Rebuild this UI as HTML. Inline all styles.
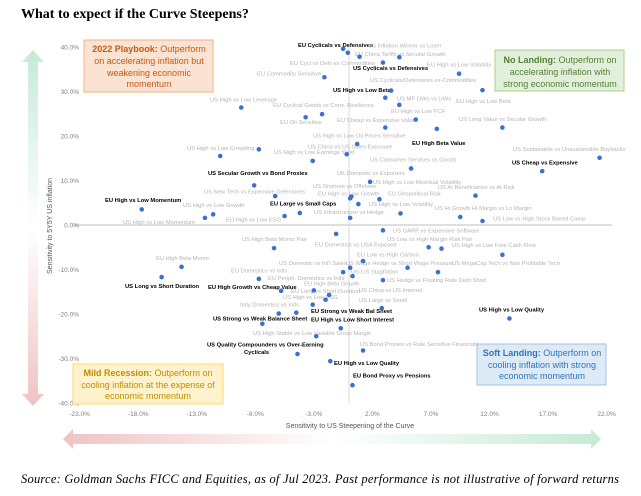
<!DOCTYPE html>
<html><head><meta charset="utf-8"><style>
html,body{margin:0;padding:0;background:#fff;}
svg{display:block;font-family:"Liberation Sans",sans-serif;}
</style></head><body>
<svg id="chart" width="641" height="496" viewBox="0 0 641 496">
<defs>
<linearGradient id="vgrad" x1="0" y1="0" x2="0" y2="1">
<stop offset="0" stop-color="#c6ead6"/><stop offset="0.5" stop-color="#ffffff"/><stop offset="1" stop-color="#efc3c3"/>
</linearGradient>
<linearGradient id="hgrad" x1="0" y1="0" x2="1" y2="0">
<stop offset="0" stop-color="#efc3c3"/><stop offset="0.5" stop-color="#ffffff"/><stop offset="1" stop-color="#c6ead6"/>
</linearGradient>
</defs>
<text x="21" y="18" font-family="Liberation Serif, serif" font-weight="bold" font-size="14" fill="#000">What to expect if the Curve Steepens?</text>
<polygon points="33,50 44,62 38,62 38,394 44,394 33,406 22,394 28,394 28,62 22,62" fill="url(#vgrad)"/>
<polygon points="63,439 73,429 73,434 591,434 591,429 601,439 591,449 591,444 73,444 73,449" fill="url(#hgrad)"/>
<text transform="translate(52,226) rotate(-90)" text-anchor="middle" font-size="7" fill="#555">Sensitivity to 5Y5Y US inflation</text>
<text x="350" y="428" text-anchor="middle" font-size="7" fill="#555">Sensitivity to US Steepening of the Curve</text>
<g id="axes"></g>
<g id="boxes">
<g>
<rect x="84" y="40" width="129" height="52" fill="#fbe3d4" stroke="#f4b183" stroke-width="1"/>
<text x="149" y="52" text-anchor="middle" font-size="9" fill="#c55a11"><tspan font-weight="bold">2022 Playbook:</tspan> Outperform</text>
<text x="149" y="64" text-anchor="middle" font-size="9" fill="#c55a11">on accelerating inflation but</text>
<text x="149" y="76" text-anchor="middle" font-size="9" fill="#c55a11">weakening economic</text>
<text x="149" y="87" text-anchor="middle" font-size="9" fill="#c55a11">momentum</text>
</g>
<g>
<rect x="495" y="50" width="129" height="41" fill="#e2efda" stroke="#a9d18e" stroke-width="1"/>
<text x="560" y="63" text-anchor="middle" font-size="9" fill="#548235"><tspan font-weight="bold">No Landing:</tspan> Outperform on</text>
<text x="560" y="75" text-anchor="middle" font-size="9" fill="#548235">accelerating inflation with</text>
<text x="560" y="87" text-anchor="middle" font-size="9" fill="#548235">strong economic momentum</text>
</g>
<g>
<rect x="73" y="364" width="150" height="40" fill="#fff2cc" stroke="#ffd966" stroke-width="1"/>
<text x="148" y="376" text-anchor="middle" font-size="9" fill="#bf8f00"><tspan font-weight="bold">Mild Recession:</tspan> Outperform on</text>
<text x="148" y="388" text-anchor="middle" font-size="9" fill="#bf8f00">cooling inflation at the expense of</text>
<text x="148" y="399" text-anchor="middle" font-size="9" fill="#bf8f00">economic momentum</text>
</g>
<g>
<rect x="477" y="344" width="129" height="41" fill="#deebf7" stroke="#9dc3e6" stroke-width="1"/>
<text x="542" y="356" text-anchor="middle" font-size="9" fill="#2e75b6"><tspan font-weight="bold">Soft Landing:</tspan> Outperform on</text>
<text x="542" y="368" text-anchor="middle" font-size="9" fill="#2e75b6">cooling inflation with strong</text>
<text x="542" y="379" text-anchor="middle" font-size="9" fill="#2e75b6">economic momentum</text>
</g>
</g>
<g id="labels"></g>
<g id="dots"></g>
<text x="21" y="483" font-family="Liberation Serif, serif" font-style="italic" font-size="12.5" fill="#000" textLength="598">Source: Goldman Sachs FICC and Equities,  as of Jul 2023. Past performance is not illustrative of forward returns</text>
</svg>
<script>
const xTicks = [-23, -18, -13, -8, -3, 2, 7, 12, 17, 22];
const yTicks = [40, 30, 20, 10, 0, -10, -20, -30, -40];
const xValues = [-0.5,-0.1,0.9,4.3,2.9,-2.1,9.4,3.6,11.4,3.1,4.3,-9.2,-2.3,-3.7,5.7,3.1,7.5,13.1,0.7,-7.7,-11.0,-0.2,-3.1,21.4,5.3,16.5,1.8,-8.1,-6.3,0.2,0.1,2.6,10.8,0.8,-17.7,-11.6,-12.3,-5.5,-4.2,4.4,9.5,11.4,0.1,
-1.1,2.9,-6.4,6.8,7.9,13.1,1.2,-14.3,-16.0,-7.7,-0.5,0.1,0.3,5.0,7.6,2.9,-5.8,-3.0,-1.7,-2.0,-3.1,-4.5,-6.0,2.8,-7.4,-0.7,-2.8,13.7,1.2,-4.4,-1.6,0.3];
const yValues = [39.6,38.7,37.8,37.7,36.5,33.2,34.0,30.2,30.3,28.6,27.0,26.4,24.9,24.2,23.7,21.9,21.6,21.9,18.2,17.0,15.5,15.9,14.4,15.1,12.7,12.1,9.7,8.9,6.5,6.4,6.0,5.8,6.6,4.7,3.5,2.4,1.6,2.0,2.7,2.6,1.8,0.9,1.6,
-2.0,-1.2,-5.2,-5.0,-5.3,-6.7,-8.1,-9.4,-11.7,-12.1,-10.6,-9.6,-11.5,-9.6,-10.6,-12.4,-14.8,-14.7,-15.7,-16.8,-17.9,-19.7,-19.9,-18.7,-22.2,-23.2,-25.0,-21.0,-28.2,-29.0,-30.6,-36.0];
// label annotations: [text, x-left, y-center, bold]
const labelTexts = [
["EU Cyclicals vs Defensives",298,45,1],["US Inflation Winner vs Loser",368,45.5,0],["EU China Tariffs vs Secular Growth",355,54,0],
["EU Cycl vs Defs ex Commodities",290,62.7,0],["US Cyclicals vs Defensives",353,68,1],["EU High vs Low Volatility",427,64.3,0],
["EU Commodity Sensitive",257,73.3,0],["US Cyclicals/Defensives ex-Commodities",370,80,0],["US High vs Low Beta",333,90,1],
["US MF OWs vs UWs",397,98.3,0],["US High vs Low Leverage",210,99.3,0],["EU High vs Low Beta",456,100.7,0],
["EU Cyclical Goods vs Cons. Resilience",273,105,0],["EU High vs Low FCF",391,110.7,0],["US Long Value vs Secular Growth",459,118.7,0],
["EU Cheap vs Expensive Value",337,119.7,0],["EU Oil Sensitive",280,122,0],["US High vs Low Oil Prices Sensitive",313,135.3,0],
["EU High Beta Value",412,142.7,1],["US China vs US Sales Exposure",308,146.3,0],["US High vs Low Crowding",187,147.7,0],
["US Sustainable vs Unsustainable Buybacks",513,149,0],["US High vs Low Earnings Yield",274,152,0],["US Consumer Services vs Goods",370,159.3,0],
["US Cheap vs Expensive",512,162.3,1],["UK Domestic vs Exporters",337,172.7,0],["US Secular Growth vs Bond Proxies",208,172.7,1],
["US High vs Low Residual Volatility",373,181.7,0],["US Onshore vs Offshore",313,186,0],["US AI Beneficiaries vs At Risk",438,187,0],
["US New Tech vs Expensive Defensives",204,191.3,0],["EU High vs Low Growth",318,193.3,0],["EU Geopolitical Risk",388,193.3,0],
["EU High vs Low Momentum",105,200,1],["EU Large vs Small Caps",270,203.3,1],["US High vs Low Volatility",369,204,0],
["US High vs Low Growth",183,205,0],["US Hi Growth Hi Margin vs Lo Margin",435,208,0],["US Infrastructure vs Hedge",314,211.7,0],
["US Low vs High Stock Based Comp",493,218.3,0],["EU High vs Low ESG",226,219.3,0],["US High vs Low Momentum",123,222,0],
["US GARP vs Expensive Software",393,230.3,0],["US Low vs High Margin Risk Pair",387,238.7,0],["US High Beta Momo Pair",242,239,0],
["EU Domestics vs USA Exposed",315,244.3,0],["US High vs Low Free Cash Flow",452,244.7,0],["EU Low vs High Carbon",357,254.3,0],
["EU High Beta Momo",156,257.7,0],["US Domestic vs Int'l Sales",279,262.7,0],["US Wage Hedge vs Short Wage Pressure",346,262.7,0],
["US MegaCap Tech vs Non Profitable Tech",452,262.7,0],["EU Domestics vs Intls",231,270.3,0],["US L/S Stagflation",351,271.3,0],
["EU Periph. Domestics vs Intls",268,278,0],["US Hedge vs Floating Rate Debt Short",387,279.7,0],["EU High Beta Growth",304,283.3,0],
["US Long vs Short Duration",125,285.7,1],["EU High Growth vs Cheap Value",208,286.7,1],["US China vs US Internet",359,289.7,0],
["EU Long vs Short Duration",291,291,0],["US High vs Low ESG",283,296.7,0],["US Large vs Small",359,299.7,0],
["Italy Domestics vs Intls",240,304.3,0],["US High vs Low Quality",479,309.3,1],["EU Strong vs Weak Bal Sheet",311,311,1],
["US Strong vs Weak Balance Sheet",213,318.3,1],["EU High vs Low Short Interest",311,319.3,1],["US High Stable vs Low Variable Gross Margin",253,333,0],
["US Bond Proxies vs Rate Sensitive Financials",360,344,0],["US Quality Compounders vs Over-Earning",207,344.3,1],["Cyclicals",244,351.7,1],
["EU High vs Low Quality",334,363,1],["EU Bond Proxy vs Pensions",353,375.3,1]
];
const NS = "http://www.w3.org/2000/svg";
const X0 = 349, XS = 11.71, Y0 = 225, YS = 4.45;
function xScale(v){ return X0 + v * XS; }
function yScale(v){ return Y0 - v * YS; }
const axes = document.getElementById('axes');
function mk(tag, attrs, parent){ const e = document.createElementNS(NS, tag); for (const k in attrs) e.setAttribute(k, attrs[k]); parent.appendChild(e); return e; }
let l = mk('line', {x1: xScale(-23.5), x2: xScale(22.5), y1: yScale(0), y2: yScale(0), stroke: '#bfbfbf', 'stroke-width': 1}, axes);


l = mk('line', {x1: xScale(0), x2: xScale(0), y1: yScale(41), y2: yScale(-40), stroke: '#d9d9d9', 'stroke-width': 1}, axes);


xTicks.forEach(v => {
  const t = mk('text', {x: xScale(v), y: 416, 'text-anchor': 'middle', 'font-size': 6.5, fill: '#808080'}, axes);
  t.textContent = v.toFixed(1) + '%';
  
  
});
yTicks.forEach(v => {
  const t = mk('text', {x: 79, y: yScale(v) + 2.3, 'text-anchor': 'end', 'font-size': 6.5, fill: '#808080'}, axes);
  t.textContent = v.toFixed(1) + '%';
  
  
});
const labels = document.getElementById('labels');
labelTexts.forEach(a => {
  const t = mk('text', {x: a[1], y: a[2] + 2.1, 'font-size': 5.8, 'font-weight': a[3] ? 'bold' : 'normal', fill: a[3] ? '#000' : '#b4b4b4'}, labels);
  t.textContent = a[0];
  
  
});
const dots = document.getElementById('dots');
xValues.forEach((v, i) => {
  const c = mk('circle', {cx: xScale(v), cy: yScale(yValues[i]), r: 2.3, fill: '#3d6fcf'}, dots);
  
  
});
</script>
</body></html>
